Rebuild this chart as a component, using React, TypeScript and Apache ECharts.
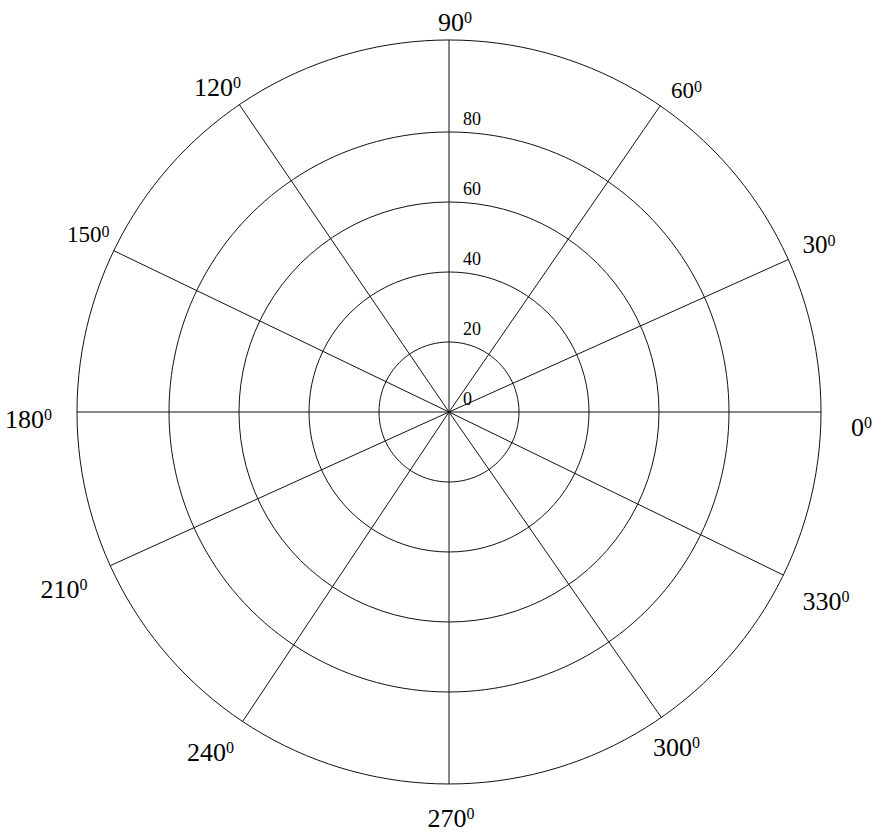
import React, { useEffect, useRef } from "react";
import * as echarts from "echarts";

// ---- data ----
const ANGLE_CATEGORIES: string[] = ["0", "30", "60", "90", "120", "150", "180", "210", "240", "270", "300", "330"];
// spoke directions (degrees, counter-clockwise from the right)
const SPOKE_ANGLES: number[] = [0, 24.2, 55.4, 90, 124.3, 154.3, 180, 204.4, 236.3, 270, 304.8, 334];
const ANGLE_MIN = 0;
const ANGLE_MAX = 360;
const RADIUS_MIN = 0;
const RADIUS_MAX = 80;
const RADIUS_STEP = 20;

// ---- per-label style tweaks (padding [top, right, bottom, left], font size) ----
const ANGLE_LABEL_STYLES: { padding: number[]; fontSize: number }[] = [
  { padding: [30, 0, 0, 10], fontSize: 26 }, // 0
  { padding: [0, 0, -41, 14], fontSize: 25 }, // 30
  { padding: [0, 0, -29, 26], fontSize: 23 }, // 60
  { padding: [0, 0, -15, 12], fontSize: 26 }, // 90
  { padding: [0, 12, -28, 0], fontSize: 26 }, // 120
  { padding: [0, 0, -30, 0], fontSize: 23 }, // 150
  { padding: [14, 5, 0, 0], fontSize: 26 }, // 180
  { padding: [-32, 22, 0, 0], fontSize: 26 }, // 210
  { padding: [-12, 19, 0, 0], fontSize: 26 }, // 240
  { padding: [1, 0, 0, 4], fontSize: 26 }, // 270
  { padding: [-17, 0, 0, 8], fontSize: 26 }, // 300
  { padding: [-20, 0, 0, 14], fontSize: 26 }, // 330
];

const FONT = "'Liberation Serif', 'Times New Roman', serif";
const LINE_COLOR = "#111";
const CENTER = [449, 412];

export default function App() {
  const ref = useRef<HTMLDivElement>(null);

  useEffect(() => {
    if (!ref.current) return;
    const chart = echarts.init(ref.current, undefined, { renderer: "svg" });

    const angleData = ANGLE_CATEGORIES.map((c, i) => ({
      value: c,
      textStyle: {
        padding: ANGLE_LABEL_STYLES[i].padding,
        fontSize: ANGLE_LABEL_STYLES[i].fontSize,
      },
    }));

    chart.setOption({
      animation: false,
      backgroundColor: "#fff",
      polar: [
        { center: CENTER, radius: 372 }, // outer circle + spokes
        { center: CENTER, radius: 280 }, // value rings
        { center: CENTER, radius: 372 }, // angle labels
      ],
      angleAxis: [
        {
          polarIndex: 0,
          type: "value",
          min: ANGLE_MIN,
          max: ANGLE_MAX,
          startAngle: 0,
          clockwise: false,
          axisLine: { show: true, lineStyle: { color: LINE_COLOR, width: 1 } },
          axisTick: { show: false, customValues: SPOKE_ANGLES },
          axisLabel: { show: false },
          splitLine: { show: true, lineStyle: { color: LINE_COLOR, width: 1 } },
        },
        {
          polarIndex: 1,
          type: "value",
          min: ANGLE_MIN,
          max: ANGLE_MAX,
          startAngle: 90,
          clockwise: false,
          show: false,
        },
        {
          polarIndex: 2,
          type: "category",
          data: angleData,
          boundaryGap: false,
          startAngle: 0,
          clockwise: false,
          axisLine: { show: false },
          axisTick: { show: false },
          splitLine: { show: false },
          axisLabel: {
            show: true,
            interval: 0,
            margin: 20,
            color: "#000",
            fontFamily: FONT,
            fontSize: 26,
            formatter: (v: string) => `${v}{s|0}`,
            rich: {
              s: { fontSize: 16, fontFamily: FONT, color: "#000", verticalAlign: "top" },
            },
          },
        },
      ],
      radiusAxis: [
        { polarIndex: 0, type: "value", min: 0, max: 1, show: false },
        {
          polarIndex: 1,
          type: "value",
          min: RADIUS_MIN,
          max: RADIUS_MAX,
          interval: RADIUS_STEP,
          axisLine: { show: false },
          axisTick: { show: false },
          splitLine: { show: true, lineStyle: { color: LINE_COLOR, width: 1 } },
          axisLabel: {
            show: true,
            margin: -14,
            align: "left",
            verticalAlign: "bottom",
            padding: [0, 0, 4, 0],
            color: "#000",
            fontFamily: FONT,
            fontSize: 18,
          },
          z: 3,
        },
        { polarIndex: 2, type: "value", min: 0, max: 1, show: false },
      ],
    });

    return () => chart.dispose();
  }, []);

  return (
    <div
      ref={ref}
      style={{ position: "absolute", left: 0, top: 0, width: 883, height: 838, background: "#fff" }}
    />
  );
}
